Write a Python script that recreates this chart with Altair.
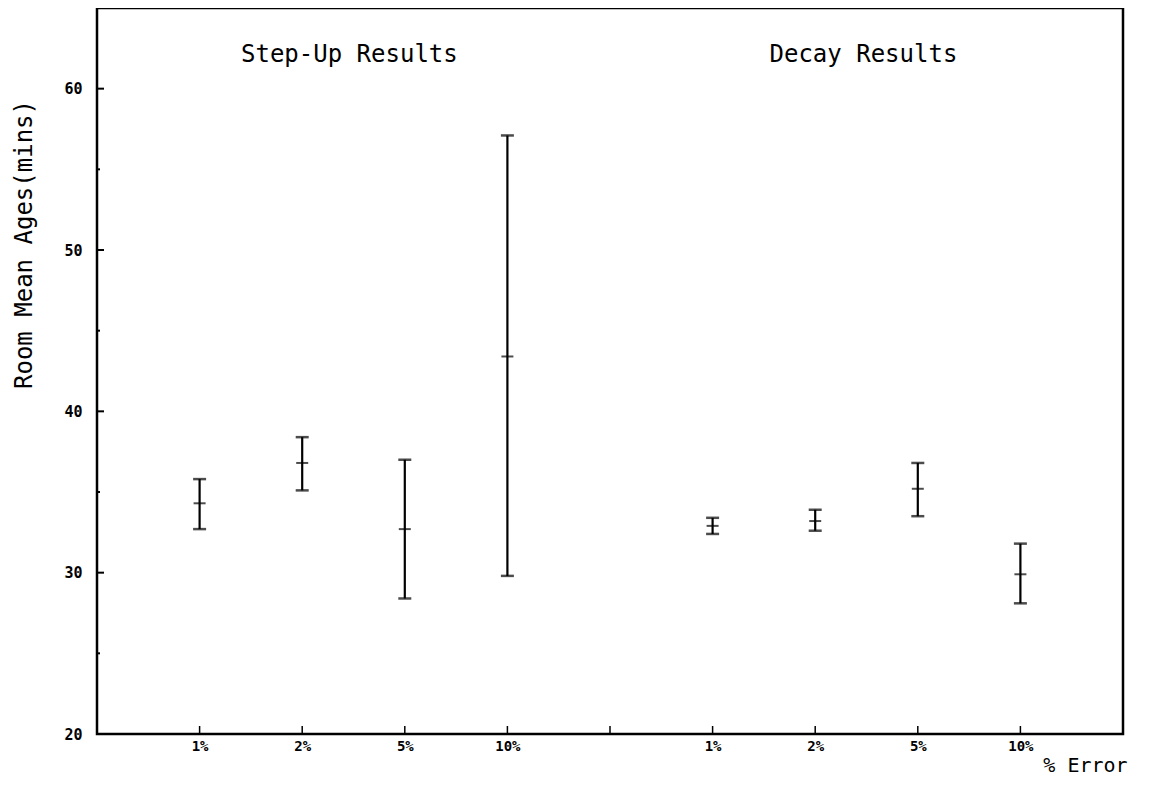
import altair as alt
import pandas as pd

# ---- data ----
groups = ["Step-Up", "Step-Up", "Step-Up", "Step-Up", "Decay", "Decay", "Decay", "Decay"]
pct_labels = ["1%", "2%", "5%", "10%", "1%", "2%", "5%", "10%"]
x_pos = [1, 2, 3, 4, 6, 7, 8, 9]
low = [32.7, 35.1, 28.4, 29.8, 32.4, 32.6, 33.5, 28.1]
mid = [34.3, 36.8, 32.7, 43.4, 32.9, 33.2, 35.2, 29.9]
high = [35.8, 38.4, 37.0, 57.1, 33.4, 33.9, 36.8, 31.8]

y_major = [20, 30, 40, 50, 60]
y_minor = [25, 35, 45, 55]
x_ticks = [1, 2, 3, 4, 5, 6, 7, 8, 9]

panel_titles = ["Step-Up Results", "Decay Results"]
panel_x = [2.46, 7.47]
panel_y = [62.1, 62.1]

FONT = "DejaVu Sans Mono"

df = pd.DataFrame({"group": groups, "pct": pct_labels, "x": x_pos,
                   "low": low, "mid": mid, "high": high})

label_map = "{" + ",".join(f"'{x}':'{l}'" for x, l in zip(x_pos, pct_labels)) + "}"

xscale = alt.Scale(domain=[0, 10], nice=False, zero=False)
yscale = alt.Scale(domain=[20, 65], nice=False, zero=False)

xaxis = alt.Axis(values=x_pos, labelExpr=f"{label_map}[datum.value]",
                 ticks=False, domain=False, grid=False,
                 labelFont=FONT, labelFontSize=14, labelFontWeight="bold",
                 labelColor="black", labelPadding=5,
                 title="% Error", titleFont=FONT, titleFontSize=20,
                 titleFontWeight="normal", titleColor="black",
                 titleX=988, titleY=31, titleAlign="center", titleBaseline="middle")
yaxis = alt.Axis(values=y_major, ticks=False, domain=False, grid=False,
                 labelFont=FONT, labelFontSize=15, labelFontWeight="bold",
                 labelColor="black", labelPadding=15,
                 title="Room Mean Ages(mins)", titleFont=FONT, titleFontSize=24,
                 titleFontWeight="normal", titleColor="black",
                 titleX=-73, titleY=236, titleAlign="center", titleBaseline="middle",
                 titleAngle=270)

base = alt.Chart(df)

bars = base.mark_rule(color="black", strokeWidth=2.2).encode(
    x=alt.X("x:Q", scale=xscale, axis=xaxis),
    y=alt.Y("low:Q", scale=yscale, axis=yaxis),
    y2="high:Q",
)
t_low = base.mark_tick(color="black", orient="horizontal", size=13, thickness=2.5).encode(
    x=alt.X("x:Q", scale=xscale), y=alt.Y("low:Q", scale=yscale))
t_mid = base.mark_tick(color="black", orient="horizontal", size=12, thickness=2).encode(
    x=alt.X("x:Q", scale=xscale), y=alt.Y("mid:Q", scale=yscale))
t_high = base.mark_tick(color="black", orient="horizontal", size=13, thickness=2.5).encode(
    x=alt.X("x:Q", scale=xscale), y=alt.Y("high:Q", scale=yscale))

titles = alt.Chart(pd.DataFrame({"t": panel_titles, "x": panel_x, "y": panel_y})).mark_text(
    font=FONT, fontSize=24, color="black", align="center", baseline="middle"
).encode(x=alt.X("x:Q", scale=xscale), y=alt.Y("y:Q", scale=yscale), text="t:N")

ymaj = alt.Chart(pd.DataFrame({"v": y_major})).mark_rule(color="black", strokeWidth=2).encode(
    y=alt.Y("v:Q", scale=yscale), x=alt.value(0), x2=alt.value(7))
ymin = alt.Chart(pd.DataFrame({"v": y_minor})).mark_rule(color="black", strokeWidth=2).encode(
    y=alt.Y("v:Q", scale=yscale), x=alt.value(0), x2=alt.value(3))
xt = alt.Chart(pd.DataFrame({"v": x_ticks})).mark_rule(color="black", strokeWidth=1.5).encode(
    x=alt.X("v:Q", scale=xscale), y=alt.value(726), y2=alt.value(718))

chart = alt.layer(bars, t_low, t_mid, t_high, titles, ymaj, ymin, xt).properties(
    width=1026, height=726,
    autosize=alt.AutoSizeParams(type="none"),
    padding={"left": 89, "top": 0, "right": 23, "bottom": 45},
    background="white",
).configure_view(stroke="black", strokeWidth=2.5)

chart.save("out.html", embed_options={"renderer": "svg", "actions": False})
